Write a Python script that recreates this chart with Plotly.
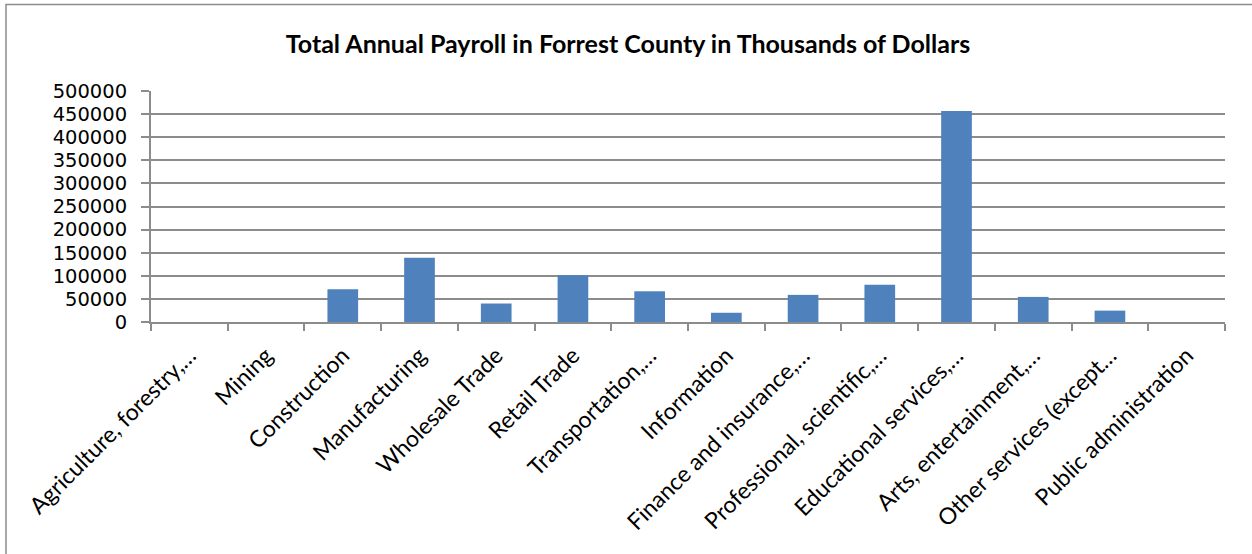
import plotly.graph_objects as go

# Industry sectors (labels shortened with an ellipsis, as on the axis)
categories = [
    "Agriculture, forestry,…",
    "Mining",
    "Construction",
    "Manufacturing",
    "Wholesale Trade",
    "Retail Trade",
    "Transportation,…",
    "Information",
    "Finance and insurance,…",
    "Professional, scientific,…",
    "Educational services,…",
    "Arts, entertainment,…",
    "Other services (except…",
    "Public administration",
]

# Total annual payroll, thousands of dollars
payroll = [0, 0, 71000, 139000, 40000, 101000, 66500, 20000,
           58700, 80400, 456600, 54300, 24600, 0]

y_ticks = [0, 50000, 100000, 150000, 200000, 250000,
           300000, 350000, 400000, 450000, 500000]

FONT = "Lato"
GRID = "#8c8c8c"

fig = go.Figure(
    go.Bar(
        x=categories,
        y=payroll,
        marker=dict(color="#4f81bd", line=dict(width=0)),
        width=0.4,
        hoverinfo="x+y",
    )
)

fig.update_layout(
    width=1252,
    height=554,
    margin=dict(l=151, r=27, t=91, b=232),
    paper_bgcolor="white",
    plot_bgcolor="white",
    showlegend=False,
    font=dict(family=FONT, color="#000000", size=22),
    title=dict(
        text="<b>Total Annual Payroll in Forrest County in Thousands of Dollars</b>",
        x=0.5016,
        xref="container",
        xanchor="center",
        y=1 - 44 / 554,
        yref="container",
        yanchor="middle",
        font=dict(family=FONT, size=25, color="#000000"),
    ),
    bargap=0.6,
)

fig.update_xaxes(
    type="category",
    tickangle=-45,
    ticks="outside",
    tickson="boundaries",
    ticklen=7,
    tickwidth=1.5,
    tickcolor=GRID,
    showline=True,
    linecolor=GRID,
    linewidth=2,
    showgrid=False,
    tickfont=dict(family=FONT, size=23),
    ticklabelstandoff=9,
)

# Wide-digit face keeps the stacked value labels readable at the 23 px pitch
fig.update_yaxes(
    range=[0, 500000],
    tickvals=y_ticks,
    ticktext=[str(v) for v in y_ticks],
    ticks="outside",
    ticklen=8,
    tickwidth=1.5,
    tickcolor=GRID,
    showline=True,
    linecolor=GRID,
    linewidth=2,
    showgrid=True,
    gridcolor=GRID,
    gridwidth=2,
    zeroline=False,
    tickfont=dict(family="DejaVu Sans", size=19.5),
    ticklabelstandoff=10,
)

# Chart-area frame
fig.add_shape(
    type="rect",
    xref="paper",
    yref="paper",
    x0=(6 - 151) / 1074,
    x1=1.1,
    y0=-1.2,
    y1=(321.7 - 5) / 230.4,
    line=dict(color="#8c8c8c", width=1.5),
    fillcolor="rgba(0,0,0,0)",
    layer="below",
)

fig.write_html("out.html")
